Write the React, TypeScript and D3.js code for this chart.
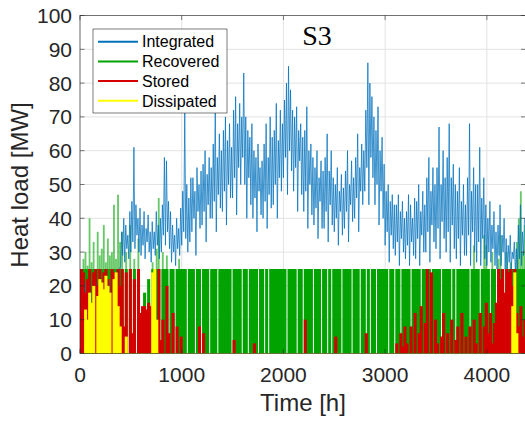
import React from 'react';
import * as d3 from 'd3';

// ---------- data ----------
const X_MAX = 4380;
const X_TICKS = [0, 1000, 2000, 3000, 4000];
const Y_TICKS = [0, 10, 20, 30, 40, 50, 60, 70, 80, 90, 100];
const SERIES = ['Integrated', 'Recovered', 'Stored', 'Dissipated'];
const COLORS = ['#0072BD', '#00A300', '#D40000', '#FFFF00'];
const TITLE = 'S3';
const X_LABEL = 'Time [h]';
const Y_LABEL = 'Heat load [MW]';
const RECOVERY_CAP = 25;

// Integrated heat load, one value every 10 h
const BLUE_STEP = 10;
const INTEGRATED = [
  14, 20, 10, 18, 12, 21, 9, 17, 13, 19,
  11, 18, 14, 22, 10, 19, 15, 21, 12, 17,
  13, 20, 11, 19, 15, 22, 12, 18, 16, 21,
  14, 22, 12, 20, 17, 24, 13, 21, 18, 25,
  26, 36, 29, 40, 27, 38, 31, 35, 28, 42,
  30, 45, 33, 61, 31, 44, 35, 40, 30, 43,
  29, 38, 32, 42, 28, 37, 33, 41, 30, 36,
  27, 39, 31, 36, 29, 42, 32, 38, 28, 40,
  30, 44, 35, 58, 32, 57, 36, 45, 31, 42,
  27, 38, 30, 35, 26, 40, 31, 37, 29, 43,
  32, 48, 36, 72, 34, 50, 30, 46, 33, 52,
  36, 52, 40, 48, 29, 55, 42, 50, 37, 54,
  38, 56, 42, 60, 33, 53, 44, 58, 40, 55,
  40, 62, 45, 72, 36, 58, 47, 65, 43, 60,
  42, 66, 48, 70, 38, 63, 50, 68, 46, 61,
  46, 72, 52, 76, 41, 68, 55, 74, 50, 70,
  58, 83, 50, 70, 40, 66, 52, 64, 44, 68,
  40, 60, 46, 58, 36, 62, 48, 55, 41, 57,
  40, 62, 45, 68, 37, 58, 47, 70, 43, 64,
  44, 66, 50, 74, 40, 63, 52, 72, 48, 68,
  52, 75, 58, 80, 47, 85, 60, 78, 54, 72,
  48, 70, 55, 73, 42, 66, 57, 68, 47, 64,
  42, 66, 48, 73, 37, 60, 50, 62, 41, 58,
  38, 55, 43, 60, 34, 52, 45, 57, 37, 54,
  37, 58, 42, 65, 33, 54, 44, 60, 38, 52,
  36, 50, 40, 55, 32, 48, 42, 53, 35, 49,
  37, 54, 42, 60, 33, 50, 44, 57, 39, 52,
  40, 58, 46, 65, 36, 55, 48, 62, 44, 60,
  48, 72, 55, 86, 44, 80, 58, 76, 52, 70,
  44, 66, 50, 73, 38, 60, 48, 64, 40, 56,
  32, 48, 36, 50, 27, 45, 35, 47, 31, 44,
  29, 44, 33, 47, 26, 42, 34, 45, 30, 40,
  28, 42, 32, 47, 26, 44, 33, 40, 29, 46,
  28, 45, 34, 50, 26, 42, 35, 48, 30, 44,
  30, 52, 36, 58, 27, 48, 38, 55, 33, 50,
  31, 55, 37, 67, 28, 50, 39, 60, 34, 52,
  30, 58, 36, 68, 27, 52, 38, 56, 31, 50,
  28, 48, 34, 55, 26, 45, 35, 50, 29, 44,
  29, 52, 35, 68, 26, 48, 36, 55, 30, 50,
  27, 50, 33, 61, 26, 46, 34, 52, 28, 44,
  26, 40, 30, 45, 27, 38, 31, 42, 26, 36,
  25, 38, 29, 44, 26, 35, 30, 40, 25, 34,
  24, 32, 27, 35, 25, 30, 28, 33, 24, 31,
  25, 38, 28, 44, 26, 36, 29, 40,
];

// Recovered / Stored / Dissipated, one value every 20 h
const BAR_STEP = 20;
const RECOVERED = [
  25, 28, 30, 26, 40, 27, 33, 25, 36, 29,
  31, 38, 27, 34, 29, 30, 44, 28, 47, 33,
  36, 0, 30, 0, 38, 0, 28, 0, 34, 0,
  0, 18, 0, 22, 0, 27, 0, 31, 46, 0,
  30, 25, 29, 0, 25, 25, 0, 25, 28, 25,
  25, 25, 0, 25, 25, 25, 0, 25, 25, 0,
  25, 25, 25, 0, 25, 25, 25, 0, 25, 25,
  25, 25, 25, 25, 0, 25, 25, 25, 25, 0,
  25, 25, 0, 25, 25, 25, 25, 0, 25, 25,
  0, 25, 0, 25, 25, 25, 25, 25, 25, 25,
  25, 0, 25, 25, 25, 25, 0, 25, 25, 0,
  25, 25, 25, 25, 0, 25, 25, 25, 0, 25,
  25, 0, 25, 0, 25, 25, 25, 25, 0, 25,
  25, 25, 25, 0, 25, 25, 25, 0, 25, 25,
  0, 25, 0, 25, 25, 0, 25, 25, 25, 25,
  25, 0, 25, 25, 0, 25, 25, 0, 25, 25,
  25, 25, 0, 25, 25, 25, 25, 0, 25, 25,
  25, 25, 0, 25, 25, 25, 25, 0, 25, 25,
  25, 25, 0, 25, 0, 25, 25, 25, 25, 25,
  25, 0, 25, 32, 25, 25, 0, 25, 35, 32,
  25, 0, 30, 25, 0, 28, 35, 25, 0, 30,
  25, 27, 25, 0, 33, 40, 48, 30, 38,
];
const STORED = [
  25, 24, 18, 22, 25, 12, 24, 25, 20, 25,
  14, 24, 25, 22, 10, 25, 24, 18, 25, 20,
  25, 8, 24, 0, 25, 6, 22, 0, 25, 12,
  14, 14, 13, 15, 14, 12, 0, 8, 25, 4,
  10, 0, 20, 6, 0, 12, 0, 8, 0, 5,
  0, 0, 0, 0, 0, 0, 0, 0, 8, 0,
  6, 0, 0, 0, 0, 0, 0, 0, 0, 0,
  0, 0, 0, 0, 0, 4, 0, 0, 0, 0,
  0, 0, 0, 0, 0, 3, 0, 0, 0, 0,
  0, 0, 0, 0, 0, 0, 0, 0, 0, 0,
  0, 0, 0, 0, 0, 0, 0, 0, 0, 0,
  10, 0, 0, 0, 0, 0, 0, 0, 0, 0,
  0, 0, 0, 0, 0, 5, 0, 0, 0, 0,
  0, 0, 0, 0, 0, 0, 0, 0, 0, 0,
  6, 0, 0, 0, 0, 0, 0, 0, 0, 0,
  0, 0, 0, 0, 0, 3, 0, 6, 2, 8,
  3, 0, 8, 0, 12, 0, 6, 14, 0, 9,
  25, 0, 24, 0, 10, 3, 0, 5, 12, 0,
  6, 0, 10, 0, 4, 8, 0, 12, 0, 5,
  0, 8, 0, 10, 3, 0, 12, 0, 8, 15,
  6, 12, 3, 9, 15, 25, 22, 25, 18, 25,
  24, 25, 20, 25, 12, 8, 14, 5, 10,
];
const DISSIPATED = [
  0, 0, 13, 10, 18, 15, 20, 0, 17, 22,
  21, 19, 23, 20, 18, 0, 22, 24, 14, 8,
  0, 0, 5, 0, 0, 0, 0, 0, 0, 0,
  0, 0, 0, 0, 0, 24, 25, 10, 0, 0,
  0, 0, 0, 0, 0, 0, 0, 0, 0, 0,
  0, 0, 0, 0, 0, 0, 0, 0, 0, 0,
  0, 0, 0, 0, 0, 0, 0, 0, 0, 0,
  0, 0, 0, 0, 0, 0, 0, 0, 0, 0,
  0, 0, 0, 0, 0, 0, 0, 0, 0, 0,
  0, 0, 0, 0, 0, 0, 0, 0, 0, 0,
  0, 0, 0, 0, 0, 0, 0, 0, 0, 0,
  0, 0, 0, 0, 0, 0, 0, 0, 0, 0,
  0, 0, 0, 0, 0, 0, 0, 0, 0, 0,
  0, 0, 0, 0, 0, 0, 0, 0, 0, 0,
  0, 0, 0, 0, 0, 0, 0, 0, 0, 0,
  0, 0, 0, 0, 0, 0, 0, 0, 0, 0,
  0, 0, 0, 0, 0, 0, 0, 0, 0, 0,
  0, 0, 0, 0, 0, 0, 0, 0, 0, 0,
  0, 0, 0, 0, 0, 0, 0, 0, 0, 0,
  0, 0, 0, 0, 0, 0, 0, 0, 0, 0,
  0, 0, 0, 0, 0, 0, 0, 0, 0, 0,
  0, 0, 14, 24, 6, 0, 0, 0, 0,
];

// ---------- chart ----------
const W = 525;
const H = 423;
const PLOT = { left: 80, right: 525.5, top: 15.5, bottom: 353.5 };
const AXIS_COLOR = '#262626';
const SANS = '"Liberation Sans", Arial, Helvetica, sans-serif';

function Bars({
  values,
  color,
  x,
  y,
  capAt,
}: {
  values: number[];
  color: string;
  x: any;
  y: any;
  capAt?: number;
}) {
  const w = x(BAR_STEP) - x(0);
  return (
    <g fill={color}>
      {values.map((v, i) => {
        if (v <= 0) return null;
        const x0 = x(i * BAR_STEP);
        if (capAt !== undefined && v > capAt) {
          return (
            <g key={i}>
              <rect x={x0} width={w * 1.5} y={y(capAt)} height={y(0) - y(capAt)} />
              <rect x={x0 + w * 0.25} width={w * 0.9} y={y(v)} height={y(capAt) - y(v)} fillOpacity={0.6} />
            </g>
          );
        }
        return <rect key={i} x={x0} width={w * 1.5} y={y(v)} height={y(0) - y(v)} />;
      })}
    </g>
  );
}

export default function App() {
  const x = d3.scaleLinear().domain([0, X_MAX]).range([PLOT.left, PLOT.right]);
  const y = d3.scaleLinear().domain([0, 100]).range([PLOT.bottom, PLOT.top]);
  const line = d3
    .line<number>()
    .x((_, i) => x(i * BLUE_STEP))
    .y((d) => y(d));

  const legendX = 93;
  const legendY = 29;
  const rowH = 19.7;

  return (
    <svg
      width={W}
      height={H}
      style={{ position: 'absolute', left: 0, top: 0, background: '#fff' }}
      fontFamily={SANS}
    >
      <defs>
        <clipPath id="plotclip">
          <rect x={PLOT.left} y={PLOT.top} width={PLOT.right - PLOT.left} height={PLOT.bottom - PLOT.top} />
        </clipPath>
      </defs>
      <rect x={0} y={0} width={W} height={H} fill="#fff" />

      {/* grid */}
      <g stroke="#E3E3E3" strokeWidth={1}>
        {X_TICKS.map((t) => (
          <line key={'gx' + t} x1={x(t)} x2={x(t)} y1={PLOT.top} y2={PLOT.bottom} />
        ))}
        {Y_TICKS.map((t) => (
          <line key={'gy' + t} x1={PLOT.left} x2={PLOT.right} y1={y(t)} y2={y(t)} />
        ))}
      </g>

      <g clipPath="url(#plotclip)">
        <Bars values={RECOVERED} color={COLORS[1]} x={x} y={y} capAt={RECOVERY_CAP} />
        <path d={line(INTEGRATED) || ''} fill="none" stroke={COLORS[0]} strokeWidth={0.75} />
        <Bars values={STORED} color={COLORS[2]} x={x} y={y} />
        <Bars values={DISSIPATED} color={COLORS[3]} x={x} y={y} />
        <line x1={PLOT.left} x2={PLOT.right} y1={y(0)} y2={y(0)} stroke={COLORS[3]} strokeWidth={1.2} />
      </g>

      {/* axes box */}
      <rect
        x={PLOT.left}
        y={PLOT.top}
        width={PLOT.right - PLOT.left}
        height={PLOT.bottom - PLOT.top}
        fill="none"
        stroke={AXIS_COLOR}
        strokeWidth={0.6}
      />
      {/* ticks */}
      <g stroke={AXIS_COLOR} strokeWidth={0.6}>
        {X_TICKS.map((t) => (
          <g key={'tx' + t}>
            <line x1={x(t)} x2={x(t)} y1={PLOT.bottom} y2={PLOT.bottom - 4.5} />
            <line x1={x(t)} x2={x(t)} y1={PLOT.top} y2={PLOT.top + 4.5} />
          </g>
        ))}
        {Y_TICKS.map((t) => (
          <g key={'ty' + t}>
            <line x1={PLOT.left} x2={PLOT.left + 4.5} y1={y(t)} y2={y(t)} />
            <line x1={PLOT.right} x2={PLOT.right - 4.5} y1={y(t)} y2={y(t)} />
          </g>
        ))}
      </g>

      {/* tick labels */}
      <g fill={AXIS_COLOR} fontSize={21}>
        {X_TICKS.map((t) => (
          <text key={'lx' + t} x={x(t)} y={382} textAnchor="middle">
            {t}
          </text>
        ))}
        {Y_TICKS.map((t) => (
          <text key={'ly' + t} x={72} y={y(t) + 7.5} textAnchor="end">
            {t}
          </text>
        ))}
      </g>

      {/* axis labels */}
      <text x={303} y={411} textAnchor="middle" fontSize={24} fill={AXIS_COLOR}>
        {X_LABEL}
      </text>
      <text
        transform={`translate(28,185) rotate(-90)`}
        textAnchor="middle"
        fontSize={24}
        fill={AXIS_COLOR}
      >
        {Y_LABEL}
      </text>

      {/* title */}
      <text x={317} y={45} textAnchor="middle" fontSize={28} fontFamily='"Liberation Serif", "Times New Roman", serif' fill="#000">
        {TITLE}
      </text>

      {/* legend */}
      <g>
        <rect x={legendX} y={legendY} width={134} height={84} fill="#fff" stroke={AXIS_COLOR} strokeWidth={0.6} />
        {SERIES.map((s, i) => {
          const cy = legendY + 12.7 + i * rowH;
          return (
            <g key={s}>
              <line x1={98} x2={138} y1={cy} y2={cy} stroke={COLORS[i]} strokeWidth={2} />
              <text x={142} y={cy + 5.7} fontSize={16} fill="#000">
                {s}
              </text>
            </g>
          );
        })}
      </g>
    </svg>
  );
}
